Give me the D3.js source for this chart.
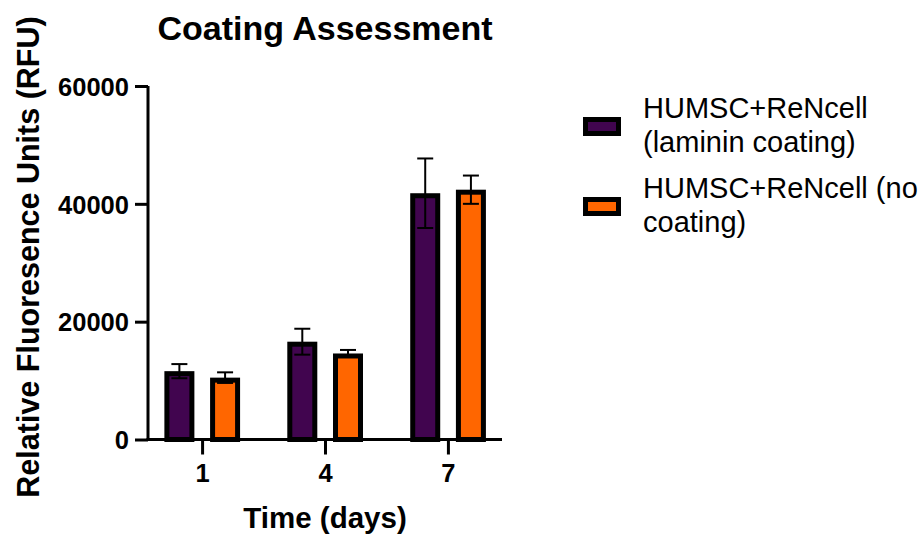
<!DOCTYPE html>
<html>
<head>
<meta charset="utf-8">
<script src="https://cdn.jsdelivr.net/npm/d3@7"></script>
<style>
  html, body { margin: 0; padding: 0; background: #fff; }
  svg text { font-family: "Liberation Sans", Arial, sans-serif; }
</style>
</head>
<body>
<svg id="chart" width="924" height="534"></svg>
<script>
const days = ["1", "4", "7"];
const seriesNames = ["HUMSC+ReNcell (laminin coating)", "HUMSC+ReNcell (no coating)"];
const lamininMean = [11600, 16600, 41800];
const lamininErr  = [1200, 2200, 5900];
const noCoatMean  = [10500, 14600, 42400];
const noCoatErr   = [900, 600, 2400];
const yTicks = [0, 20000, 40000, 60000];
const colors = ["#41054F", "#FF6600"];

const svg = d3.select("#chart");
const x0 = 148, x1 = 502, yBottom = 439.5, yTop = 86;

const x = d3.scalePoint().domain(days).range([x0, x1]).padding(0.44);
const y = d3.scaleLinear().domain([0, 60000]).range([yBottom, yTop]);

const series = [
  { name: seriesNames[0], mean: lamininMean, err: lamininErr, color: colors[0], offset: -22.7 },
  { name: seriesNames[1], mean: noCoatMean, err: noCoatErr, color: colors[1], offset: 23 }
];

const barW = 25, sw = 5;

// bars
series.forEach(s => {
  const g = svg.append("g");
  g.selectAll("rect").data(days).join("rect")
    .attr("x", (d, i) => x(d) + s.offset - barW / 2)
    .attr("y", (d, i) => y(s.mean[i]) + sw / 2)
    .attr("width", barW)
    .attr("height", (d, i) => y(0) - y(s.mean[i]) - sw / 2)
    .attr("fill", s.color)
    .attr("stroke", "#000")
    .attr("stroke-width", sw);
});

// error bars
series.forEach(s => {
  const g = svg.append("g").attr("stroke", "#000").attr("stroke-width", 2).attr("fill", "none");
  days.forEach((d, i) => {
    const cx = x(d) + s.offset;
    const hi = y(s.mean[i] + s.err[i]);
    const lo = y(s.mean[i] - s.err[i]);
    g.append("line").attr("x1", cx).attr("x2", cx).attr("y1", hi).attr("y2", lo);
    g.append("line").attr("x1", cx - 8).attr("x2", cx + 8).attr("y1", hi).attr("y2", hi);
    g.append("line").attr("x1", cx - 8).attr("x2", cx + 8).attr("y1", lo).attr("y2", lo);
  });
});

// y axis
const yAxis = svg.append("g").attr("transform", `translate(${x0},0)`)
  .call(d3.axisLeft(y).tickValues(yTicks).tickSize(13).tickPadding(6).tickFormat(d3.format("d")));
yAxis.select(".domain").attr("stroke", "#000").attr("stroke-width", 3).attr("d", `M0,${yTop}V${yBottom}`);
yAxis.selectAll(".tick line").attr("stroke", "#000").attr("stroke-width", 3);
yAxis.selectAll(".tick text").attr("font-size", 25.5).attr("font-weight", "bold").attr("fill", "#000")
  .attr("font-family", "Liberation Sans, Arial, sans-serif").attr("dy", "0.36em").attr("x", -19);

// x axis
const xAxis = svg.append("g").attr("transform", `translate(0,${yBottom})`)
  .call(d3.axisBottom(x).tickSize(15).tickPadding(8));
xAxis.select(".domain").attr("stroke", "#000").attr("stroke-width", 3).attr("d", `M${x0 - 1.5},0H${x1}`);
xAxis.selectAll(".tick line").attr("stroke", "#000").attr("stroke-width", 3);
xAxis.selectAll(".tick text").attr("font-size", 25.5).attr("font-weight", "bold").attr("fill", "#000")
  .attr("font-family", "Liberation Sans, Arial, sans-serif").attr("y", 24).attr("dy", "0.71em");

// title
svg.append("text").attr("x", 325).attr("y", 40).attr("text-anchor", "middle")
  .attr("font-size", 34).attr("font-weight", "bold").text("Coating Assessment");

// axis titles
svg.append("text").attr("x", 325).attr("y", 528).attr("text-anchor", "middle")
  .attr("font-size", 29.5).attr("font-weight", "bold").text("Time (days)");
svg.append("text").attr("transform", "translate(39,257) rotate(-90)").attr("text-anchor", "middle")
  .attr("font-size", 30.5).attr("font-weight", "bold").text("Relative Fluoresence Units (RFU)");

// legend
const legendLines = [["HUMSC+ReNcell", "(laminin coating)"], ["HUMSC+ReNcell (no", "coating)"]];
const lg = svg.append("g");
series.forEach((s, i) => {
  const top = 119.5 + i * 80;
  lg.append("rect").attr("x", 585.5).attr("y", top).attr("width", 33).attr("height", 14)
    .attr("fill", s.color).attr("stroke", "#000").attr("stroke-width", 5);
  const t = lg.append("text").attr("x", 643).attr("y", 118 + i * 80).attr("font-size", 29).attr("fill", "#000");
  legendLines[i].forEach((ln, j) => {
    t.append("tspan").attr("x", 643).attr("dy", j === 0 ? 0 : 34).text(ln);
  });
});
</script>
</body>
</html>
